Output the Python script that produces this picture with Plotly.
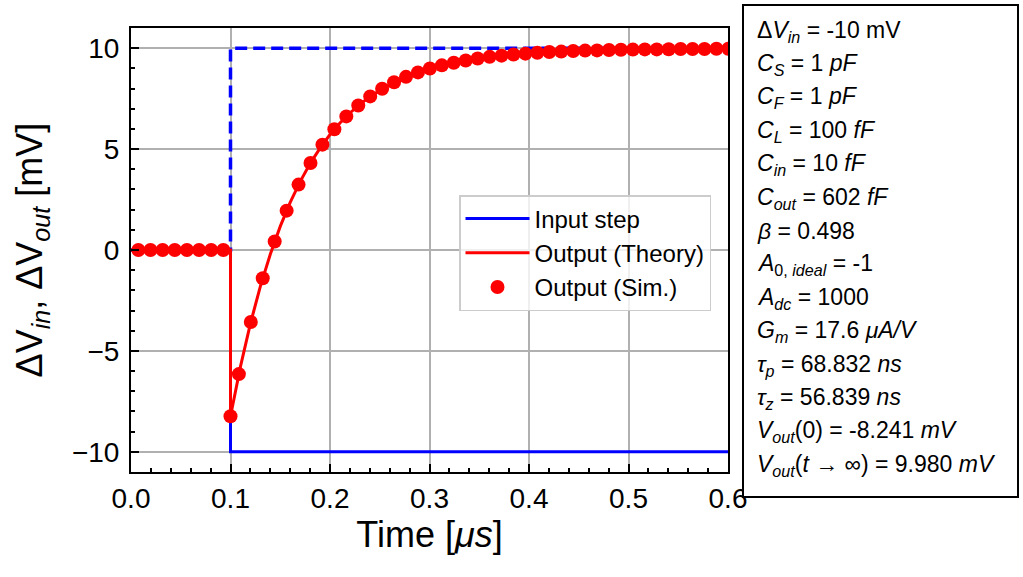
import plotly.graph_objects as go

# input step (blue solid) and ideal output (blue dashed)
t_in = [0.0, 0.1, 0.1, 0.6]
v_in = [0, 0, -10, -10]
t_ideal = [0.0, 0.1, 0.1, 0.6]
v_ideal = [0, 0, 10, 10]

# theory curve
t_theory = [0.0, 0.1, 0.1, 0.11, 0.12, 0.13, 0.14, 0.15, 0.16, 0.17, 0.18, 0.19,
            0.20, 0.21, 0.22, 0.23, 0.24, 0.25, 0.26, 0.27, 0.28, 0.29, 0.30,
            0.31, 0.32, 0.33, 0.34, 0.35, 0.36, 0.37, 0.38, 0.39, 0.40, 0.42,
            0.44, 0.46, 0.48, 0.50, 0.52, 0.54, 0.56, 0.58, 0.60]
v_theory = [0, 0, -8.24, -5.78, -3.65, -1.80, -0.21, 1.17, 2.36, 3.39, 4.28, 5.05,
            5.72, 6.29, 6.79, 7.22, 7.60, 7.92, 8.20, 8.44, 8.65, 8.83, 8.98,
            9.12, 9.23, 9.34, 9.42, 9.50, 9.56, 9.62, 9.67, 9.71, 9.75, 9.81,
            9.85, 9.88, 9.91, 9.93, 9.94, 9.95, 9.96, 9.96, 9.97]

# simulation points
t_sim = [0.0074, 0.0196, 0.0318, 0.044, 0.0562, 0.0684, 0.0806, 0.0928, 0.1,
         0.1084, 0.1204, 0.1324, 0.1444, 0.1564, 0.1684, 0.1804, 0.1924, 0.2044,
         0.2164, 0.2284, 0.2404, 0.2524, 0.2644, 0.2764, 0.2884, 0.3004, 0.3124,
         0.3244, 0.3364, 0.3484, 0.3604, 0.3724, 0.3844, 0.3964, 0.4084, 0.4204,
         0.4324, 0.4444, 0.4564, 0.4684, 0.4804, 0.4924, 0.5044, 0.5164, 0.5284,
         0.5404, 0.5524, 0.5644, 0.5764, 0.5884, 0.6004]
v_sim = [0, 0, 0, 0, 0, 0, 0, 0, -8.24,
         -6.15, -3.57, -1.40, 0.42, 1.95, 3.24, 4.31, 5.22, 5.98,
         6.62, 7.16, 7.61, 7.99, 8.31, 8.58, 8.80, 8.99, 9.15,
         9.28, 9.39, 9.49, 9.57, 9.63, 9.69, 9.73, 9.77, 9.81,
         9.83, 9.86, 9.88, 9.89, 9.91, 9.92, 9.93, 9.94, 9.94,
         9.95, 9.96, 9.96, 9.96, 9.97, 9.97]

# parameter box text
params = [
    "Δ<i>V</i><sub><i>in</i></sub> = -10 mV",
    "<i>C</i><sub><i>S</i></sub> = 1 <i>pF</i>",
    "<i>C</i><sub><i>F</i></sub> = 1 <i>pF</i>",
    "<i>C</i><sub><i>L</i></sub> = 100 <i>fF</i>",
    "<i>C</i><sub><i>in</i></sub> = 10 <i>fF</i>",
    "<i>C</i><sub><i>out</i></sub> = 602 <i>fF</i>",
    "<i>β</i> = 0.498",
    "<i>A</i><sub>0, <i>ideal</i></sub> = -1",
    "<i>A</i><sub><i>dc</i></sub> = 1000",
    "<i>G</i><sub><i>m</i></sub> = 17.6 <i>μA/V</i>",
    "<i>τ</i><sub><i>p</i></sub> = 68.832 <i>ns</i>",
    "<i>τ</i><sub><i>z</i></sub> = 56.839 <i>ns</i>",
    "<i>V</i><sub><i>out</i></sub>(0) = -8.241 <i>mV</i>",
    "<i>V</i><sub><i>out</i></sub>(<i>t</i> → ∞) = 9.980 <i>mV</i>",
]

FONT = "Liberation Sans, Arial, sans-serif"
W, H = 1023, 577
L, R, T, B = 131, 295, 28, 105
pw, ph = W - L - R, H - T - B


def px_x(x):
    return (x - L) / pw


def px_y(y):
    return (H - B - y) / ph


fig = go.Figure()
fig.add_trace(go.Scatter(x=t_ideal, y=v_ideal, mode="lines", showlegend=False,
                         line=dict(color="#0000ff", width=3.5, dash="12px,6px")))
fig.add_trace(go.Scatter(x=t_in, y=v_in, mode="lines", name="Input step", legendgroup="a",
                         line=dict(color="#0000ff", width=3)))
fig.add_trace(go.Scatter(x=t_theory, y=v_theory, mode="lines", name="Output (Theory)",
                         legendgroup="b", line=dict(color="#ff0000", width=3)))
fig.add_trace(go.Scatter(x=t_sim, y=v_sim, mode="markers", name="Output (Sim.)",
                         legendgroup="c", marker=dict(color="#ff0000", size=14)))

axis_common = dict(showline=True, linecolor="black", linewidth=2, mirror=True,
                   showgrid=True, gridcolor="#b0b0b0", gridwidth=1.5,
                   ticks="inside", ticklen=8, tickwidth=2, tickcolor="black",
                   tickfont=dict(size=28, color="black"), zeroline=False)

fig.update_xaxes(range=[0, 0.6], dtick=0.1, tickformat=".1f",
                 minor=dict(dtick=0.02, ticks="inside", ticklen=4, tickwidth=1.5,
                            tickcolor="black", showgrid=False),
                 title=dict(text="Time [<i>μs</i>]", font=dict(size=36, color="black"), standoff=8),
                 **axis_common)
fig.update_yaxes(range=[-11, 11], dtick=5, ticklabelstandoff=4,
                 minor=dict(dtick=1, ticks="inside", ticklen=4, tickwidth=1.5,
                            tickcolor="black", showgrid=False),
                 title=dict(text="ΔV<sub><i>in</i></sub>, ΔV<sub><i>out</i></sub> [mV]",
                            font=dict(size=36, color="black"), standoff=18),
                 **axis_common)

# parameter box
fig.add_shape(type="rect", xref="paper", yref="paper",
              x0=px_x(743), x1=px_x(1018), y0=px_y(497), y1=px_y(5),
              line=dict(color="black", width=2), fillcolor="white")
for i, s in enumerate(params):
    fig.add_annotation(xref="paper", yref="paper", x=px_x(755), y=px_y(31 + 33.4 * i),
                       text=s, showarrow=False, xanchor="left", yanchor="middle",
                       font=dict(size=23, color="black"))

fig.update_layout(
    width=W, height=H,
    margin=dict(l=L, r=R, t=T, b=B),
    paper_bgcolor="white", plot_bgcolor="white",
    font=dict(family=FONT, color="black"),
    legend=dict(x=px_x(459), y=px_y(195), xanchor="left", yanchor="top",
                bgcolor="rgba(255,255,255,0.8)", bordercolor="#cccccc", borderwidth=1.5,
                font=dict(size=24, color="black"), tracegroupgap=0,
                itemwidth=64, traceorder="grouped"),
)

# drop the default page margin so the figure fills the window exactly
fig.write_html("out.html", config={"displayModeBar": False},
               post_script="document.body.style.margin = '0';")
